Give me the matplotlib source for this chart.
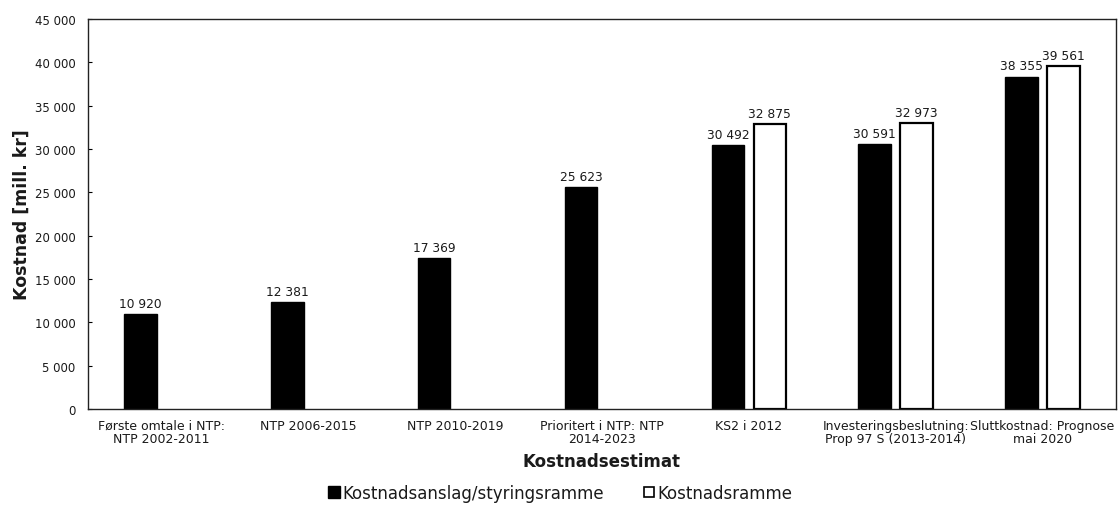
import matplotlib
matplotlib.use("Agg")
import matplotlib.pyplot as plt
import numpy as np
from matplotlib.lines import Line2D

plt.rcParams['font.family'] = ['DejaVu Sans']

categories = [
    "Første omtale i NTP:\nNTP 2002-2011",
    "NTP 2006-2015",
    "NTP 2010-2019",
    "Prioritert i NTP: NTP\n2014-2023",
    "KS2 i 2012",
    "Investeringsbeslutning:\nProp 97 S (2013-2014)",
    "Sluttkostnad: Prognose\nmai 2020",
]
anslag = [10920, 12381, 17369, 25623, 30492, 30591, 38355]
ramme = [None, None, None, None, 32875, 32973, 39561]
yticks = [0, 5000, 10000, 15000, 20000, 25000, 30000, 35000, 40000, 45000]

series_names = ["Kostnadsanslag/styringsramme", "Kostnadsramme"]

text_color = "#1a1a1a"


def fmt(v):
    return f"{v:,}".replace(",", " ")


fig = plt.figure(figsize=(11.18, 5.06), dpi=100)
ax = fig.add_axes([88 / 1118, 1 - 410 / 506, (1116 - 88) / 1118, 390 / 506])

x = np.arange(len(categories))
w = 0.222
off = 0.143

b1 = ax.bar(x - off, anslag, width=w, color="black", edgecolor="black", linewidth=1.0)
idx = [i for i, v in enumerate(ramme) if v is not None]
vals = [ramme[i] for i in idx]
b2 = ax.bar(x[idx] + off, vals, width=w, color="white", edgecolor="black", linewidth=1.6)

for bars, v in ((b1, anslag), (b2, vals)):
    ax.bar_label(bars, labels=[fmt(t) for t in v], padding=3, fontsize=8.8, color=text_color)

ax.set_xlim(-0.5, len(categories) - 0.5)
ax.set_ylim(0, 45000)
ax.set_yticks(yticks)
ax.set_yticklabels([fmt(t) for t in yticks], fontsize=8.5, color=text_color)
ax.set_xticks(x)
ax.set_xticklabels(categories, fontsize=9, color=text_color, linespacing=1.05)
ax.tick_params(axis="x", length=0, pad=7)
ax.tick_params(axis="y", direction="in", length=3, width=0.8, pad=9)

for s in ax.spines.values():
    s.set_color("#222222")
    s.set_linewidth(1.0)

ax.set_ylabel("Kostnad [mill. kr]", fontsize=12.5, fontweight="bold", color=text_color, labelpad=3)
ax.set_xlabel("Kostnadsestimat", fontsize=12, fontweight="bold", color=text_color, labelpad=5)

handles = [
    Line2D([], [], marker="s", linestyle="none", markersize=8,
           markerfacecolor="black", markeredgecolor="black"),
    Line2D([], [], marker="s", linestyle="none", markersize=7.5,
           markerfacecolor="white", markeredgecolor="black", markeredgewidth=1.2),
]
fig.legend(handles, series_names, loc="center", bbox_to_anchor=(0.5, 0.024),
           ncol=2, frameon=False, fontsize=12, handletextpad=0.0,
           columnspacing=2.2, handlelength=1.0, labelcolor=text_color)

fig.savefig("out.png", dpi=100, facecolor="white")
